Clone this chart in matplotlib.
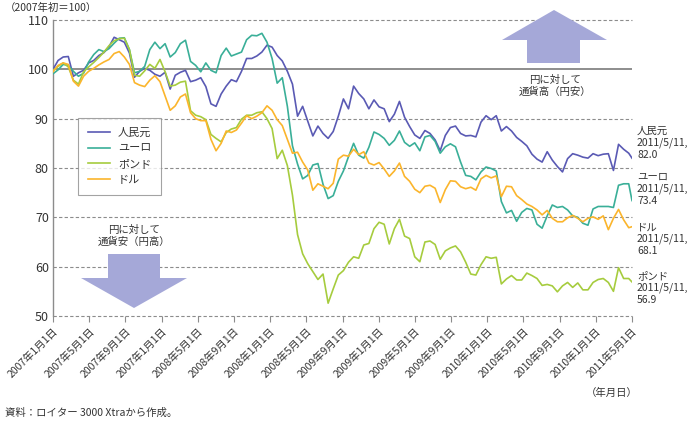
import numpy as np
import pandas as pd
import matplotlib
matplotlib.use('Agg')
import matplotlib.pyplot as plt
import matplotlib.dates as mdates
from matplotlib.patches import Polygon

plt.rcParams['font.family'] = ['Noto Sans CJK JP', 'DejaVu Sans']

# 2週間ごとの値（2007年初＝100）、最後は2011/5/11
START = '2007-01-01'
END = '2011-05-11'
N_POINTS = 114

yuan = [100.0, 101.8, 102.5, 102.6, 98.6, 99.3, 99.8, 101.3, 101.8, 102.8,
        103.4, 104.6, 106.5, 106.0, 105.5, 103.3, 98.4, 99.6, 100.2, 99.8,
        99.0, 98.6, 99.4, 96.0, 98.8, 99.4, 99.8, 97.5, 97.8, 98.3,
        96.5, 93.0, 92.5, 95.0, 96.6, 97.9, 97.5, 99.6, 102.2, 102.2,
        102.7, 103.5, 104.9, 104.5, 102.8, 101.7, 99.6, 97.0, 90.5, 92.5,
        89.5, 86.5, 88.5, 87.0, 86.0, 87.4, 90.5, 94.0, 92.0, 96.6,
        95.1, 94.0, 92.0, 93.8, 92.4, 92.0, 89.4, 90.9, 93.5, 90.3,
        88.4, 86.7, 86.0, 87.6, 87.0, 85.7, 83.5, 86.6, 88.2, 88.5,
        87.0, 86.5, 86.6, 86.3, 89.3, 90.6, 89.8, 90.6, 87.5, 88.4,
        87.5, 86.2, 85.4, 84.5, 82.8, 81.8, 81.2, 83.3, 81.6, 80.3,
        79.2, 81.9, 82.9, 82.6, 82.2, 82.0, 82.9, 82.5, 82.8, 82.9,
        79.5, 84.8, 83.8, 83.0, 82.0]

euro = [99.1, 99.9, 101.0, 100.8, 99.6, 98.6, 99.2, 101.5, 103.0, 104.0,
        103.6, 104.2, 105.3, 106.3, 106.4, 104.0, 99.3, 99.6, 100.6, 104.0,
        105.5, 104.2, 105.2, 102.5, 103.4, 105.2, 105.9, 101.6, 100.8, 99.5,
        101.3, 99.8, 99.3, 102.8, 104.3, 102.7, 103.1, 103.5, 106.0, 106.9,
        106.8, 107.3, 105.5, 102.2, 97.2, 98.3, 92.5, 84.5, 80.8, 77.8,
        78.5, 80.6, 80.9, 76.7, 73.8, 74.4, 77.3, 79.4, 82.3, 85.0,
        82.6, 82.0, 84.2, 87.3, 86.8, 86.0, 84.6, 85.6, 87.5, 85.2,
        84.4, 85.1, 83.5, 86.3, 86.6, 85.4, 83.0, 84.3, 84.9, 84.3,
        81.2, 78.5, 78.3, 77.6, 79.2, 80.2, 79.9, 79.4, 73.2, 70.9,
        71.4, 69.2, 71.0, 71.8, 71.5, 68.6, 67.8, 70.3, 72.5, 72.0,
        72.2, 71.5, 70.3, 70.0, 68.8, 68.4, 71.7, 72.2, 72.2, 72.2,
        72.0, 76.5, 76.8, 76.8, 73.4]

pound = [99.8, 100.6, 101.3, 100.5, 97.8, 97.0, 99.5, 100.5, 101.4, 102.4,
         103.5, 104.8, 105.8, 106.2, 106.3, 104.0, 98.8, 98.6, 99.7, 101.0,
         100.2, 102.0, 99.5, 96.6, 96.8, 97.4, 97.6, 91.6, 90.7, 90.4,
         89.8, 86.8, 86.0, 85.3, 87.2, 87.9, 88.2, 89.9, 90.7, 90.7,
         91.2, 91.4, 90.0, 88.0, 81.9, 83.6, 80.5, 74.5, 66.5, 62.6,
         60.6, 59.0, 57.4, 58.5, 52.6, 55.5, 58.3, 59.2, 60.9, 62.0,
         61.7, 64.4, 64.7, 67.7, 69.0, 68.6, 64.6, 67.7, 69.6, 66.2,
         65.7, 62.0, 61.0, 65.0, 65.2, 64.5, 61.5, 63.2, 63.8, 64.2,
         63.0, 60.9, 58.5, 58.3, 60.4, 62.0, 61.7, 61.9, 56.5, 57.5,
         58.2, 57.3, 57.3, 58.7, 58.2, 57.6, 56.2, 56.4, 56.1, 54.9,
         56.1, 56.8, 55.8, 56.7, 55.3, 55.3, 56.8, 57.4, 57.6, 56.8,
         55.0, 59.8, 57.6, 57.6, 56.9]

dollar = [99.5, 100.8, 101.3, 101.0, 97.6, 96.6, 98.6, 99.6, 100.2, 100.9,
          101.5, 102.0, 103.2, 103.6, 102.5, 101.0, 97.3, 96.8, 96.5, 97.8,
          98.7, 97.5, 94.6, 91.7, 92.6, 94.4, 95.0, 91.2, 90.0, 89.6,
          89.6, 85.8, 83.5, 85.0, 87.5, 87.2, 87.7, 89.1, 90.6, 90.0,
          90.5, 91.2, 92.6, 91.7, 89.8, 88.6, 85.8, 83.0, 83.2, 81.2,
          79.6, 75.5, 76.8, 76.3, 75.8, 76.9, 81.8, 82.6, 82.4, 83.8,
          82.7, 83.3, 81.0, 80.6, 81.1, 79.8, 78.3, 79.4, 81.0, 78.3,
          77.3, 75.7, 75.0, 76.3, 76.5, 75.9, 73.0, 75.6, 77.4, 77.3,
          76.2, 75.8, 76.1, 75.5, 77.8, 78.5, 78.0, 78.4, 74.2, 76.3,
          76.2, 74.4, 73.6, 72.7, 72.2, 71.5, 70.5, 71.4, 69.8, 69.1,
          69.1, 69.9, 70.4, 69.8, 69.1, 69.8, 70.1, 69.6, 70.3, 67.5,
          69.8, 71.6, 69.5, 67.9, 68.1]

names = ['人民元', 'ユーロ', 'ポンド', 'ドル']
colors = ['#5a5ab4', '#3aaf98', '#a6cc3e', '#fbb52c']
last_labels = ['82.0', '73.4', '56.9', '68.1']

tick_labels = ['2007年1月1日', '2007年5月1日', '2007年9月1日', '2007年1月1日',
               '2008年5月1日', '2008年9月1日', '2008年1月1日', '2008年5月1日',
               '2009年9月1日', '2009年1月1日', '2009年5月1日', '2009年9月1日',
               '2010年1月1日', '2010年5月1日', '2010年9月1日', '2010年1月1日',
               '2011年5月1日']

W, H = 694, 423
TEXT = '#333333'


def fx(x):
    return x / W


def fy(y):
    return 1 - y / H


dates = list(pd.date_range(START, periods=N_POINTS, freq='14D')) + [pd.Timestamp(END)]
x = mdates.date2num(dates)

fig = plt.figure(figsize=(W / 100, H / 100), dpi=100)
ax = fig.add_axes([fx(53), fy(316), fx(632) - fx(53), fy(20) - fy(316)])

for vals, name, c in zip([yuan, euro, pound, dollar], names, colors):
    ax.plot(x, vals, color=c, lw=1.2, label=name, zorder=3)

ax.set_xlim(x[0], x[-1])
ax.set_ylim(50, 110)

# grid
for v in [50, 60, 70, 80, 90, 110]:
    ax.axhline(v, color='#8c8c8c', lw=0.8, ls=(0, (3, 2)), zorder=1, clip_on=False)
ax.axhline(100, color='#7a7a7a', lw=1.2, zorder=2)

for s in ['top', 'right', 'bottom']:
    ax.spines[s].set_visible(False)
ax.spines['left'].set_color('#8c8c8c')
ax.spines['left'].set_linewidth(1.0)

ax.set_yticks([50, 60, 70, 80, 90, 100, 110])
ax.tick_params(axis='y', length=0, pad=3, labelsize=9, labelcolor=TEXT)
ax.set_xticks(np.linspace(x[0], x[-1], len(tick_labels)))
ax.set_xticklabels(tick_labels, rotation=45, ha='right', rotation_mode='anchor')
ax.tick_params(axis='x', length=4, width=0.8, color='#8c8c8c', pad=3,
               labelsize=7.5, labelcolor=TEXT)

leg = ax.legend(loc='upper left', bbox_to_anchor=(0.043, 0.669), borderaxespad=0,
                fontsize=8, frameon=True, fancybox=False, handlelength=2.0,
                handletextpad=0.7, labelspacing=0.5, borderpad=0.9)
leg.get_frame().set_edgecolor('#8c8c8c')
leg.get_frame().set_linewidth(0.8)
for t in leg.get_texts():
    t.set_color(TEXT)
leg.set_zorder(5)

# arrows
arrow_color = '#a5a8d8'
up = [(554, 10), (607, 40), (580, 40), (580, 63), (527, 63), (527, 40), (502, 40)]
down = [(134, 308), (187, 278), (160, 278), (160, 254), (108, 254), (108, 278), (81, 278)]
for pts in [up, down]:
    fig.patches.append(Polygon([(fx(a), fy(b)) for a, b in pts], closed=True,
                               transform=fig.transFigure, facecolor=arrow_color,
                               edgecolor='none', zorder=4))

fig.text(fx(555), fy(86), '円に対して\n通貨高（円安）', ha='center', va='center',
         fontsize=7.5, color=TEXT, linespacing=1.3)
fig.text(fx(134), fy(236), '円に対して\n通貨安（円高）', ha='center', va='center',
         fontsize=7.5, color=TEXT, linespacing=1.3)

# end labels
end_y = {'人民元': 143, 'ユーロ': 189, 'ドル': 239, 'ポンド': 288}
for name, lab in zip(names, last_labels):
    fig.text(fx(637), fy(end_y[name]), name + '\n2011/5/11,\n' + lab, ha='left',
             va='center', fontsize=7.5, color=TEXT, linespacing=1.2)

fig.text(fx(5), fy(8), '（2007年初＝100）', ha='left', va='center', fontsize=7.5, color=TEXT)
fig.text(fx(638), fy(393), '（年月日）', ha='right', va='center', fontsize=7.5, color=TEXT)
fig.text(fx(5), fy(413), '資料：ロイター 3000 Xtraから作成。', ha='left', va='center',
         fontsize=7.5, color=TEXT)

fig.savefig('out.png', dpi=100)
